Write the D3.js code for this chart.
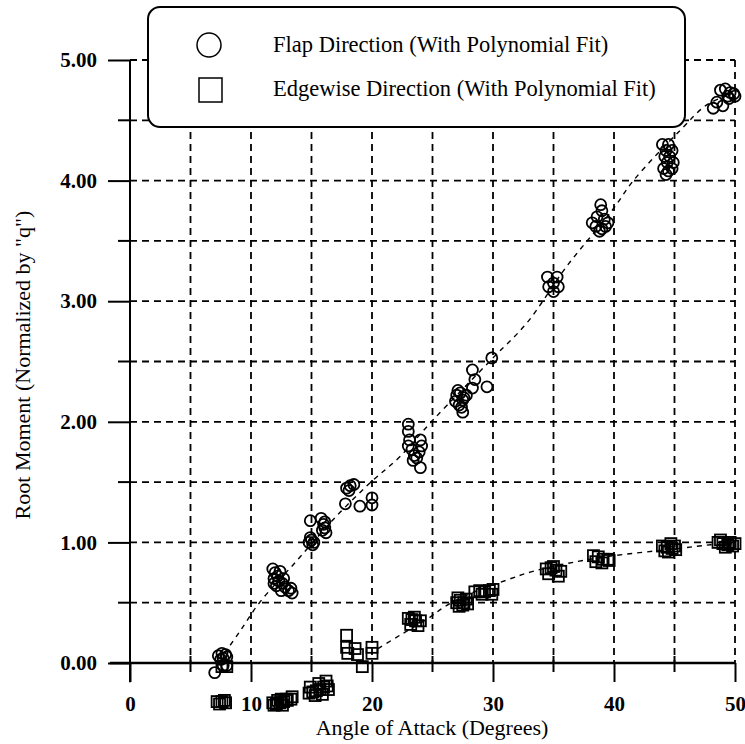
<!DOCTYPE html>
<html>
<head>
<meta charset="utf-8">
<script src="https://cdn.jsdelivr.net/npm/d3@7"></script>
<style>
  body { margin: 0; background: #fff; }
  svg { display: block; font-family: "Liberation Serif", "Times New Roman", serif; }
</style>
</head>
<body>
<svg id="chart" width="745" height="744"></svg>
<script>
// tick values
var xTicks = [0, 10, 20, 30, 40, 50];
var xMinorTicks = [5, 15, 25, 35, 45];
var yTicks = [0, 1, 2, 3, 4, 5];
var yMinorTicks = [0.5, 1.5, 2.5, 3.5, 4.5];
var legendLabels = ["Flap Direction (With Polynomial Fit)", "Edgewise Direction (With Polynomial Fit)"];

// flap direction measurements (angle, moment)
var flapAngle = [7.3, 7.6, 7.9, 7.7, 8.0, 7.5, 7.0, 7.7, 8.0,
  11.8, 12.0, 12.2, 11.9, 12.3, 12.6, 12.8, 13.1, 13.3, 12.5, 12.1, 12.4, 12.7, 13.4, 11.9,
  14.8, 15.0, 15.1, 14.9, 15.2, 15.9, 16.1, 16.2, 16.0, 14.9, 15.8, 16.1,
  17.9, 18.2, 18.5, 18.1, 17.8, 19.0, 20.0, 20.0,
  23.0, 23.0, 23.1, 23.0, 23.3, 24.0, 24.1, 23.5, 23.7, 23.9, 23.4, 24.0,
  27.0, 27.3, 27.6, 26.9, 27.2, 27.5, 27.8, 27.1, 27.4, 27.5, 28.3, 28.5, 28.3, 29.5, 29.9,
  34.5, 35.3, 35.0, 34.6, 35.4, 35.0,
  38.9, 39.0, 38.6, 39.2, 38.2, 38.5, 39.3, 39.0, 39.5, 38.8,
  44.0, 44.5, 44.3, 44.8, 44.2, 44.6, 44.4, 44.9, 44.1, 44.5, 44.8, 44.3,
  48.8, 49.2, 49.6, 49.9, 49.4, 48.5, 49.0, 48.2, 49.5, 50.0];
var flapMoment = [0.06, 0.08, 0.07, 0.04, 0.05, 0.03, -0.08, -0.02, -0.02,
  0.78, 0.75, 0.72, 0.70, 0.68, 0.66, 0.63, 0.60, 0.62, 0.60, 0.64, 0.76, 0.70, 0.58, 0.66,
  1.00, 1.02, 0.98, 1.04, 1.00, 1.10, 1.12, 1.08, 1.15, 1.18, 1.20, 1.17,
  1.45, 1.47, 1.48, 1.43, 1.32, 1.30, 1.37, 1.31,
  1.98, 1.92, 1.85, 1.80, 1.77, 1.85, 1.80, 1.72, 1.70, 1.75, 1.68, 1.62,
  2.22, 2.24, 2.20, 2.17, 2.14, 2.18, 2.22, 2.26, 2.12, 2.08, 2.43, 2.35, 2.28, 2.29, 2.53,
  3.20, 3.20, 3.15, 3.12, 3.12, 3.08,
  3.80, 3.75, 3.70, 3.68, 3.65, 3.62, 3.62, 3.60, 3.65, 3.58,
  4.30, 4.30, 4.25, 4.25, 4.20, 4.20, 4.15, 4.15, 4.10, 4.08, 4.10, 4.05,
  4.75, 4.76, 4.73, 4.72, 4.70, 4.65, 4.62, 4.60, 4.68, 4.70];

// edgewise direction measurements (angle, moment)
var edgeAngle = [7.2, 7.6, 7.9, 7.4, 7.8, 7.6, 8.0,
  11.8, 12.1, 12.4, 12.7, 13.0, 13.3, 12.2, 12.6, 12.9, 13.4, 11.9, 12.5,
  14.8, 15.1, 15.4, 15.7, 16.0, 16.3, 16.2, 15.6, 14.9, 15.3, 16.4, 15.9,
  17.9, 17.9, 18.6, 18.0, 18.8, 19.2, 20.0, 20.0,
  23.0, 23.3, 23.6, 24.0, 23.2, 23.8, 23.5,
  27.0, 27.3, 27.6, 27.9, 27.2, 27.8, 27.5, 27.1,
  28.5, 28.9, 29.3, 29.7, 30.0, 29.1, 29.9,
  34.4, 34.8, 35.2, 35.6, 34.6, 35.4, 35.0,
  38.3, 38.7, 39.1, 39.5, 38.5, 39.0, 39.6,
  44.0, 44.4, 44.8, 45.1, 44.2, 44.7, 44.5, 45.0,
  48.6, 49.0, 49.4, 49.8, 50.0, 48.8, 49.6, 49.2];
var edgeMoment = [-0.32, -0.32, -0.33, -0.34, -0.31, -0.03, -0.03,
  -0.33, -0.34, -0.33, -0.32, -0.31, -0.30, -0.31, -0.35, -0.30, -0.28, -0.35, -0.30,
  -0.25, -0.24, -0.23, -0.22, -0.20, -0.19, -0.15, -0.17, -0.20, -0.27, -0.22, -0.26,
  0.23, 0.13, 0.12, 0.08, 0.07, -0.03, 0.13, 0.08,
  0.37, 0.36, 0.35, 0.35, 0.32, 0.31, 0.38,
  0.50, 0.52, 0.50, 0.49, 0.47, 0.53, 0.48, 0.54,
  0.59, 0.60, 0.59, 0.60, 0.61, 0.57, 0.57,
  0.78, 0.79, 0.77, 0.76, 0.74, 0.72, 0.80,
  0.89, 0.88, 0.86, 0.86, 0.84, 0.83, 0.85,
  0.97, 0.96, 0.95, 0.94, 0.93, 0.99, 0.92, 0.97,
  1.00, 0.99, 0.98, 0.97, 0.99, 1.02, 1.00, 0.96];

// polynomial fit curves
var flapFitAngle = [7.8, 9.0, 10.7, 13.8, 16.8, 19.8, 22.3, 25.0, 30.0, 32.8, 36.1, 39.9, 41.6, 45.5, 47.7, 49.8];
var flapFitMoment = [0.08, 0.25, 0.50, 0.85, 1.19, 1.49, 1.71, 2.01, 2.53, 2.82, 3.29, 3.76, 4.00, 4.42, 4.63, 4.72];
var edgeFitAngle = [20.5, 22.3, 24.8, 25.9, 28.0, 31.2, 33.3, 36.9, 40.0, 45.4, 48.0, 50.0];
var edgeFitMoment = [0.12, 0.23, 0.38, 0.46, 0.57, 0.69, 0.76, 0.84, 0.89, 0.95, 0.98, 0.99];

var svg = d3.select("#chart");

var x = d3.scaleLinear().domain([0, 50]).range([130, 735]);
var y = d3.scaleLinear().domain([0, 5]).range([663, 60]);

// dashed grid
var grid = svg.append("g")
  .attr("stroke", "#000")
  .attr("stroke-width", 1.8)
  .attr("stroke-dasharray", "7,5");
grid.selectAll("line.h")
  .data(yMinorTicks.concat([1, 2, 3, 4, 5]))
  .enter().append("line")
  .attr("class", "h")
  .attr("x1", x(0)).attr("x2", x(50))
  .attr("y1", d => y(d)).attr("y2", d => y(d));
grid.selectAll("line.v")
  .data(xMinorTicks.concat([10, 20, 30, 40, 50]))
  .enter().append("line")
  .attr("class", "v")
  .attr("x1", d => x(d)).attr("x2", d => x(d))
  .attr("y1", y(5)).attr("y2", y(0));

// y axis
var yAxis = svg.append("g")
  .attr("transform", `translate(${x(0)},0)`)
  .call(d3.axisLeft(y).tickValues(yTicks).tickFormat(d3.format(".2f")).tickSize(22).tickPadding(11))
  .call(g => g.select(".domain").remove());
yAxis.selectAll(".tick line").attr("stroke-width", 2);
yAxis.selectAll(".tick text")
  .attr("font-family", "Liberation Serif, serif")
  .attr("font-size", 21)
  .attr("font-weight", "bold")
  .attr("fill", "#000");
svg.append("g").selectAll("line")
  .data(yMinorTicks)
  .enter().append("line")
  .attr("x1", x(0) - 12).attr("x2", x(0))
  .attr("y1", d => y(d)).attr("y2", d => y(d))
  .attr("stroke", "#000").attr("stroke-width", 2);
svg.append("line")
  .attr("x1", x(0)).attr("x2", x(0))
  .attr("y1", y(5)).attr("y2", y(-0.16))
  .attr("stroke", "#000").attr("stroke-width", 2);

// x axis along zero
var xAxis = svg.append("g")
  .attr("transform", `translate(0,${y(0)})`)
  .call(d3.axisBottom(x).tickValues(xTicks).tickFormat(d3.format("d")).tickSize(19).tickPadding(14))
  .call(g => g.select(".domain").remove());
xAxis.selectAll(".tick line").attr("stroke-width", 2);
xAxis.selectAll(".tick text")
  .attr("font-family", "Liberation Serif, serif")
  .attr("font-size", 21)
  .attr("font-weight", "bold")
  .attr("fill", "#000");
svg.append("g").selectAll("line")
  .data(xMinorTicks)
  .enter().append("line")
  .attr("x1", d => x(d)).attr("x2", d => x(d))
  .attr("y1", y(0) - 7).attr("y2", y(0) + 9)
  .attr("stroke", "#000").attr("stroke-width", 2);
svg.append("line")
  .attr("x1", x(0) - 20).attr("x2", x(50))
  .attr("y1", y(0)).attr("y2", y(0))
  .attr("stroke", "#000").attr("stroke-width", 2.5);

// axis titles
svg.append("text")
  .attr("x", 432).attr("y", 735)
  .attr("text-anchor", "middle")
  .attr("font-size", 22)
  .text("Angle of Attack (Degrees)");
svg.append("text")
  .attr("transform", "translate(30,365) rotate(-90)")
  .attr("text-anchor", "middle")
  .attr("font-size", 22)
  .text("Root Moment (Normalized by \"q\")");

// fit curves
var line = d3.line()
  .x(d => x(d[0]))
  .y(d => y(d[1]))
  .curve(d3.curveCatmullRom);
svg.append("path")
  .datum(d3.zip(flapFitAngle, flapFitMoment))
  .attr("d", line)
  .attr("fill", "none").attr("stroke", "#000")
  .attr("stroke-width", 1.4).attr("stroke-dasharray", "5,5");
svg.append("path")
  .datum(d3.zip(edgeFitAngle, edgeFitMoment))
  .attr("d", line)
  .attr("fill", "none").attr("stroke", "#000")
  .attr("stroke-width", 1.4).attr("stroke-dasharray", "5,5");

// markers
svg.append("g").selectAll("circle")
  .data(d3.zip(flapAngle, flapMoment))
  .enter().append("circle")
  .attr("cx", d => x(d[0]))
  .attr("cy", d => y(d[1]))
  .attr("r", 5.5)
  .attr("fill", "none").attr("stroke", "#000").attr("stroke-width", 1.8);
var sq = 11;
svg.append("g").selectAll("rect")
  .data(d3.zip(edgeAngle, edgeMoment))
  .enter().append("rect")
  .attr("x", d => x(d[0]) - sq / 2)
  .attr("y", d => y(d[1]) - sq / 2)
  .attr("width", sq).attr("height", sq)
  .attr("fill", "none").attr("stroke", "#000").attr("stroke-width", 1.8);

// legend
var legend = svg.append("g");
legend.append("rect")
  .attr("x", 148).attr("y", 7)
  .attr("width", 537).attr("height", 120)
  .attr("rx", 12)
  .attr("fill", "#fff").attr("stroke", "#000").attr("stroke-width", 2);
legend.append("circle")
  .attr("cx", 209).attr("cy", 45).attr("r", 12)
  .attr("fill", "none").attr("stroke", "#000").attr("stroke-width", 1.5);
legend.append("rect")
  .attr("x", 199).attr("y", 78).attr("width", 23).attr("height", 24)
  .attr("fill", "none").attr("stroke", "#000").attr("stroke-width", 1.5);
legend.selectAll("text")
  .data(legendLabels)
  .enter().append("text")
  .attr("x", 273)
  .attr("y", (d, i) => 52 + i * 44)
  .attr("font-size", 22.5)
  .text(d => d);
</script>
</body>
</html>
